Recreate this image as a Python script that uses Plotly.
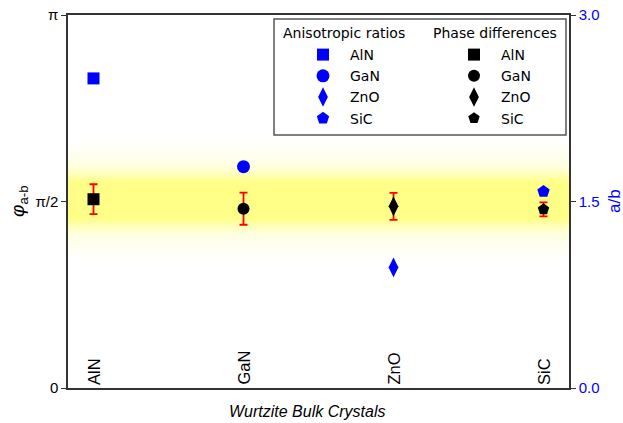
import math
import plotly.graph_objects as go

# ---- data ----
categories = ["AlN", "GaN", "ZnO", "SiC"]
aniso_ratio = [2.49, 1.78, 0.97, 1.58]          # a/b (right axis)
phase_diff = [1.59, 1.51, 1.53, 1.505]          # phi_{a-b} in rad (left axis)
phase_err = [0.126, 0.135, 0.114, 0.059]
left_tickvals = [0, math.pi / 2, math.pi]
left_ticktext = ["0", "π/2", "π"]
right_tickvals = [0.0, 1.5, 3.0]

symbols = ["square", "circle", "diamond-tall", "pentagon"]
blue_sizes = [12, 13, 14, 13]
black_sizes = [12, 12, 14, 12]

W, H = 623, 423
L, R, T, B = 68, 54, 15, 35
pw, ph = W - L - R, H - T - B

def px(xp):
    return (xp - L) / pw

def py(yp):
    return (H - B - yp) / ph

fig = go.Figure()

for i, c in enumerate(categories):
    fig.add_trace(go.Scatter(
        x=[c], y=[aniso_ratio[i]], yaxis="y2", mode="markers", name=c,
        marker=dict(symbol=symbols[i], size=blue_sizes[i], color="#0000ff", line=dict(width=0)),
        legend="legend", showlegend=True,
    ))

for i, c in enumerate(categories):
    fig.add_trace(go.Scatter(
        x=[c], y=[phase_diff[i]], mode="markers", name=c,
        marker=dict(symbol=symbols[i], size=black_sizes[i], color="black", line=dict(width=0)),
        error_y=dict(type="data", array=[phase_err[i]], color="red", thickness=1.8, width=4),
        legend="legend2", showlegend=True,
    ))

# yellow glow band around pi/2 (half-height in px, opacity)
glow_layers = [(60, 0.012), (56, 0.012), (52, 0.015), (48, 0.015), (44, 0.02), (40, 0.02),
               (37, 0.025), (34, 0.03), (31, 0.04), (29, 0.05), (27, 0.06), (25, 0.065),
               (23, 0.07), (21, 0.075), (19, 0.08)]
shapes = []
for hpx, a in glow_layers:
    h = hpx * math.pi / ph
    shapes.append(dict(type="rect", xref="paper", yref="y", x0=0, x1=1,
                       y0=math.pi / 2 + 0.01 - h, y1=math.pi / 2 + 0.01 + h,
                       fillcolor="rgb(255,252,0)", opacity=a, line=dict(width=0),
                       layer="below"))
# legend frame
shapes.append(dict(type="rect", xref="paper", yref="paper",
                   x0=px(274), x1=px(566), y0=py(135), y1=py(19),
                   line=dict(color="#555555", width=1.5), fillcolor="white", layer="below"))

annotations = []
for c in categories:
    annotations.append(dict(x=c, y=0, xref="x", yref="y", text=c, textangle=-90,
                            showarrow=False, xanchor="center", yanchor="bottom", yshift=1,
                            font=dict(family="Liberation Sans", size=16.5, color="black")))
annotations.append(dict(x=px(283), y=py(33), xref="paper", yref="paper", text="Anisotropic ratios",
                        showarrow=False, xanchor="left", yanchor="middle", xshift=-2,
                        font=dict(family="DejaVu Sans", size=14, color="black")))
annotations.append(dict(x=px(433), y=py(33), xref="paper", yref="paper", text="Phase differences",
                        showarrow=False, xanchor="left", yanchor="middle", xshift=-2,
                        font=dict(family="DejaVu Sans", size=14, color="black")))
annotations.append(dict(x=px(307), y=py(411), xref="paper", yref="paper",
                        text="<i>Wurtzite Bulk Crystals</i>", showarrow=False,
                        xanchor="center", yanchor="middle",
                        font=dict(family="Liberation Sans", size=16, color="black")))
annotations.append(dict(x=px(19), y=py(201), xref="paper", yref="paper",
                        text="<i>φ</i><sub>a-b</sub>", showarrow=False, textangle=-90,
                        xanchor="center", yanchor="middle",
                        font=dict(family="Liberation Sans", size=19, color="black")))
annotations.append(dict(x=px(614), y=py(201), xref="paper", yref="paper",
                        text="a/b", showarrow=False, textangle=-90,
                        xanchor="center", yanchor="middle",
                        font=dict(family="Liberation Sans", size=17, color="#0000ff")))

legend_common = dict(bgcolor="rgba(0,0,0,0)", borderwidth=0, yanchor="top", xanchor="left",
                     font=dict(family="DejaVu Sans", size=14, color="black"),
                     tracegroupgap=0, itemwidth=44)

fig.update_layout(
    width=W, height=H,
    margin=dict(l=L, r=R, t=T, b=B, autoexpand=False),
    paper_bgcolor="white", plot_bgcolor="rgba(0,0,0,0)",
    font=dict(family="Liberation Sans", size=15, color="black"),
    showlegend=True,
    legend=dict(x=px(296), y=py(39), **legend_common),
    legend2=dict(x=px(447), y=py(39), **legend_common),
    xaxis=dict(type="category", categoryorder="array", categoryarray=categories,
               range=[-0.17, 3.17], showticklabels=False, ticks="", showgrid=False, zeroline=False,
               showline=True, linecolor="#333333", linewidth=1.5, mirror=True, automargin=False),
    yaxis=dict(range=[0, math.pi], tickvals=left_tickvals, ticktext=left_ticktext,
               ticks="outside", ticklen=5, tickcolor="#333333", showgrid=False, zeroline=False,
               showline=True, linecolor="#333333", linewidth=1.5, automargin=False,
               tickfont=dict(family="Liberation Sans", size=15, color="black")),
    yaxis2=dict(range=[0, 3.0], overlaying="y", side="right", tickvals=right_tickvals,
                tickformat=".1f", ticks="outside", ticklen=5, tickcolor="#333333",
                showgrid=False, zeroline=False, showline=True, linecolor="#333333", linewidth=1.5,
                automargin=False,
                tickfont=dict(family="Liberation Sans", size=15, color="#0000ff")),
    shapes=shapes,
    annotations=annotations,
)

fig.write_html("out.html")
